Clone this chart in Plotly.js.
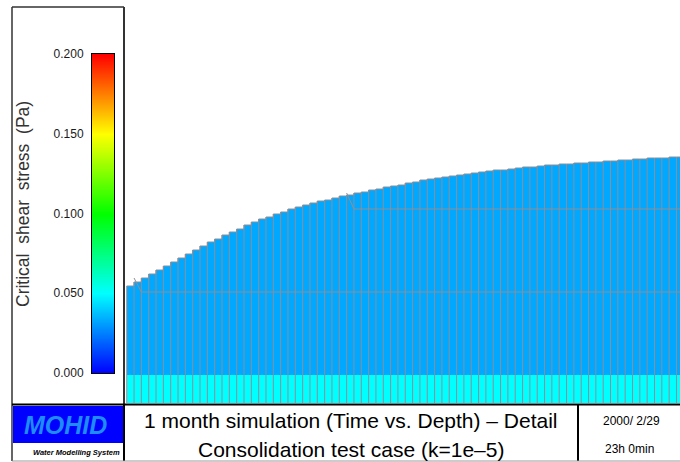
<!DOCTYPE html>
<html><head><meta charset="utf-8">
<script src="https://cdn.plot.ly/plotly-3.0.1.min.js"></script>
<style>html,body{margin:0;padding:0;background:#fff}#chart{width:680px;height:462px}</style>
</head><body><div id="chart"></div>
<script>
// ---- Data ----
// Top of the sediment column for each output time (height units above the plot bottom)
const columnTops = [117,121,125,129,133,137,141,145,149,153,
                    157,161,164,168,171,174,178,181,184,186,
                    189,191,194,196,198,200,202,203,205,207,
                    208,210,211,213,214,216,217,218,220,221,
                    223,224,225,226,227,228,229,230,231,232,
                    233,233,234,235,236,236,237,238,238,239,
                    239,240,240,241,241,242,242,243,243,244,
                    244,245,245,245,246,246];
const bottomLayerTop = 28;            // top of the lowest (cyan) layer
const faceStartColumn = [2, 31];      // column where a new layer face appears
const faceHeight = [111, 194];        // height of those faces
const layerStress = [0.050, 0.033];   // critical shear stress: bottom layer, upper layers (Pa)
const colorbarTicks = [0, 0.05, 0.10, 0.15, 0.20];
const colorbarTickText = ['0.000','0.050','0.100','0.150','0.200'];
const rainbowScale = [[0,'#0000ff'],[0.25,'#00ffff'],[0.5,'#00ff00'],[0.75,'#ffff00'],[1,'#ff0000']];
const titleLines = ['1 month simulation (Time vs. Depth) \u2013 Detail', 'Consolidation test case (k=1e\u20135)'];
const dateLines = ['2000/ 2/29', '23h 0min'];
const colorbarTitle = 'Critical\u00a0 shear\u00a0 stress\u00a0 (Pa)';

// ---- helpers ----
const W = 680, H = 462;
const px = x => x / W;
const py = y => 1 - y / H;
const GRID = '#8e8e98';

const nCol = columnTops.length;
const colX = columnTops.map((_, i) => i);
const edges = []; for (let k = 0; k <= nCol; k++) edges.push(k - 0.5);

// bars
const bottomBar = {
  type: 'bar', x: colX, y: colX.map(() => bottomLayerTop), base: colX.map(() => 0), width: 1,
  marker: {color: colX.map(() => layerStress[0]), colorscale: rainbowScale, cmin: 0, cmax: 0.2, showscale: false, line: {width: 0}},
  hoverinfo: 'skip'
};
const upperBar = {
  type: 'bar', x: colX, y: columnTops.map(t => t - bottomLayerTop), base: colX.map(() => bottomLayerTop), width: 1,
  marker: {color: colX.map(() => layerStress[1]), colorscale: rainbowScale, cmin: 0, cmax: 0.2, showscale: false, line: {width: 0}},
  hoverinfo: 'skip'
};

// vertical cell lines
const vx = [], vy = [];
for (let k = 0; k <= nCol; k++) {
  const left = k > 0 ? columnTops[k - 1] : columnTops[0];
  const right = k < nCol ? columnTops[k] : columnTops[nCol - 1];
  vx.push(edges[k], edges[k], null);
  vy.push(0, Math.max(left, right), null);
}
const vLines = {type: 'scatter', mode: 'lines', x: vx, y: vy, line: {color: GRID, width: 1}, hoverinfo: 'skip'};

// top outline (stepped)
const topLine = {
  type: 'scatter', mode: 'lines', x: edges, y: columnTops.concat([columnTops[nCol - 1]]),
  line: {color: GRID, width: 1, shape: 'hv'}, hoverinfo: 'skip'
};

// layer faces
const faceTraces = faceStartColumn.map((s, j) => ({
  type: 'scatter', mode: 'lines',
  x: [edges[s - 1], edges[s], edges[nCol]],
  y: [columnTops[s], faceHeight[j], faceHeight[j]],
  line: {color: GRID, width: 1}, hoverinfo: 'skip'
}));

// colour key
const keyMap = {
  type: 'heatmap', xaxis: 'x2', yaxis: 'y2', x: [0, 1], y: colorbarTicks,
  z: colorbarTicks.map(v => [v, v]), zmin: 0, zmax: 0.2, colorscale: rainbowScale,
  zsmooth: 'best', showscale: false, hoverinfo: 'skip'
};

const font = 'Liberation Sans, Arial, sans-serif';
const ann = (text, x, y, size, extra) => Object.assign({
  text: text, x: px(x), y: py(y), xref: 'paper', yref: 'paper', showarrow: false,
  xanchor: 'center', yanchor: 'middle',
  font: {family: font, size: size, color: '#000'}
}, extra || {});

const lineShape = (x0, y0, x1, y1, color, width) => ({
  type: 'line', xref: 'paper', yref: 'paper', x0: px(x0), y0: py(y0), x1: px(x1), y1: py(y1),
  line: {color: color, width: width}
});

const layout = {
  width: W, height: H, margin: {l: 0, r: 0, t: 0, b: 0},
  paper_bgcolor: '#fff', plot_bgcolor: 'rgba(0,0,0,0)', showlegend: false,
  barmode: 'overlay', bargap: 0, hovermode: false,
  xaxis: {domain: [px(124), 1], range: [-0.87, 74.98], visible: false, fixedrange: true},
  yaxis: {domain: [py(403), py(7)], range: [0, 396], visible: false, fixedrange: true},
  xaxis2: {domain: [px(92), px(114)], range: [0, 1], anchor: 'y2', showticklabels: false, ticks: '',
           showgrid: false, zeroline: false, showline: true, mirror: true, linecolor: '#000', linewidth: 1},
  yaxis2: {domain: [py(373), py(54)], range: [0, 0.2], anchor: 'x2', tickvals: colorbarTicks, ticktext: colorbarTickText,
           ticks: '', ticklabelstandoff: 5, showgrid: false, zeroline: false, showline: true, mirror: true,
           linecolor: '#000', linewidth: 1, tickfont: {family: font, size: 12, color: '#1a1a1a'}},
  shapes: [
    {type: 'rect', xref: 'paper', yref: 'paper', x0: px(13), x1: px(123), y0: py(443), y1: py(406),
     fillcolor: '#0000ff', line: {width: 0}},
    lineShape(12, 7, 124, 7, '#333', 1.5),
    lineShape(12, 7, 12, 461, '#333', 1.5),
    lineShape(124, 7, 124, 404, '#333', 2),
    lineShape(12, 404.5, 680, 404.5, '#000', 2),
    lineShape(124, 404, 124, 461, '#000', 2),
    lineShape(578, 404, 578, 461, '#000', 2),
    lineShape(12, 461, 680, 461, '#999', 1)
  ],
  annotations: [
    ann(colorbarTitle, 23, 204, 17.5, {textangle: -90, font: {family: font, size: 17.5, color: '#333'}}),
    ann('<b><i>MOHID</i></b>', 65, 425, 25, {font: {family: 'Liberation Sans Narrow, Liberation Sans, sans-serif', size: 25, color: '#1e8cff'}}),
    ann('<b><i>Water Modelling System</i></b>', 122, 452, 7.5, {xanchor: 'right', font: {family: font, size: 7.5, color: '#000'}}),
    ann(titleLines[0], 351, 420, 21),
    ann(titleLines[1], 351, 449, 21),
    ann(dateLines[0], 631, 421, 12),
    ann(dateLines[1], 629, 449, 12)
  ]
};

Plotly.newPlot('chart', [bottomBar, upperBar, vLines, topLine].concat(faceTraces).concat([keyMap]), layout,
  {staticPlot: true, displayModeBar: false});
</script>
</body></html>
